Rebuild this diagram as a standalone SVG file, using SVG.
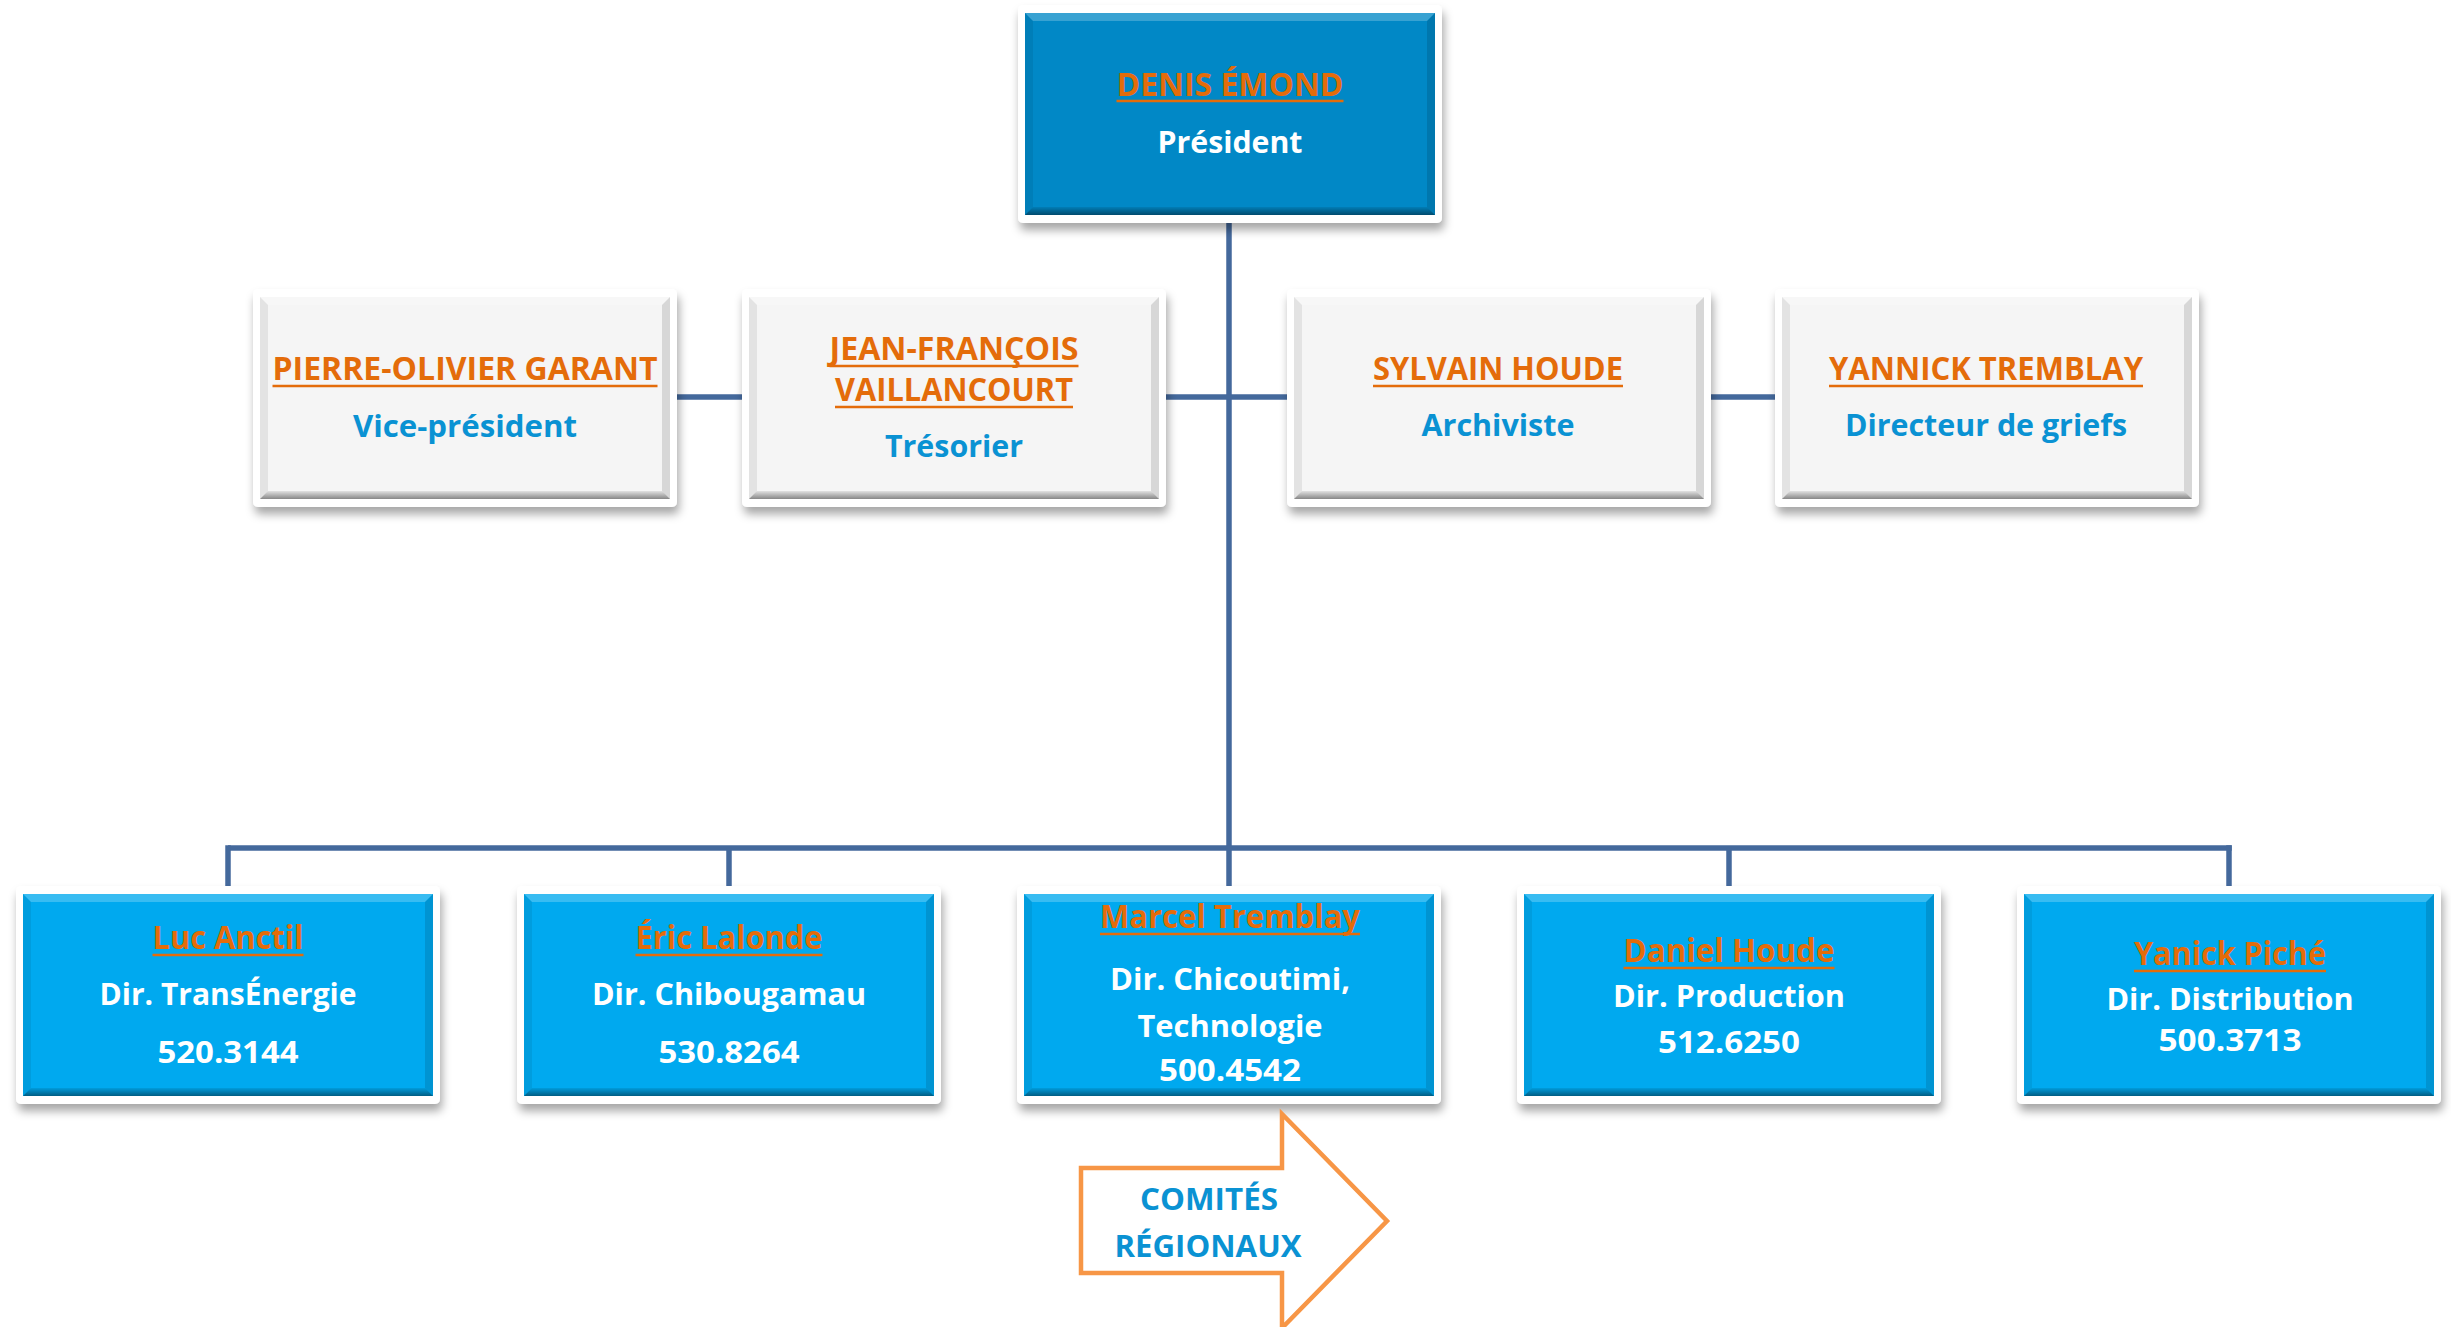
<svg xmlns="http://www.w3.org/2000/svg" xmlns:xlink="http://www.w3.org/1999/xlink" width="2451" height="1327" viewBox="0 0 2451 1327">
<style>
text{font-family:"Open Sans","Liberation Sans",sans-serif;font-weight:700;text-anchor:middle}
.nm{font-size:32px;fill:#E46C0A}
.ul{stroke:#E46C0A;stroke-width:2.6}
.wt{font-size:30px;fill:#FFFFFF}
.bl{font-size:30px;fill:#0A92D3}
.frame{fill:#FFFFFF;filter:url(#sh)}
.con{stroke:#44699C;stroke-width:5.5;fill:none;stroke-linecap:butt}
.top{fill:#0188C6}
.mid{fill:#F5F5F5}
.bot{fill:#00A9EF}
</style>
<defs>
<filter id="sh" x="-10%" y="-10%" width="125%" height="135%">
<feDropShadow dx="2" dy="7" stdDeviation="5" flood-color="#000" flood-opacity="0.35"/>
</filter>
<linearGradient id="bg" x1="0" y1="0" x2="0" y2="1">
<stop offset="0" stop-color="#000" stop-opacity="0.08"/>
<stop offset="1" stop-color="#000" stop-opacity="0.45"/>
</linearGradient>
<g id="bevel">
<polygon points="7,8 417,8 409,16 15,16" fill="#FFFFFF" fill-opacity="0.22"/>
<polygon points="7,8 15,16 15,202 7,210" fill="#000" fill-opacity="0.07"/>
<polygon points="417,8 409,16 409,202 417,210" fill="#000" fill-opacity="0.12"/>
<polygon points="7,210 15,202 409,202 417,210" fill="url(#bg)"/>
</g>
</defs>

<g id="connectors">
<line class="con" x1="1229" y1="220" x2="1229" y2="890"/>
<line class="con" x1="674" y1="397" x2="745" y2="397"/>
<line class="con" x1="1163" y1="397" x2="1290" y2="397"/>
<line class="con" x1="1708" y1="397" x2="1778" y2="397"/>
<line class="con" x1="228" y1="848" x2="2231.75" y2="848"/>
<line class="con" x1="228" y1="845.25" x2="228" y2="890"/>
<line class="con" x1="729" y1="848" x2="729" y2="890"/>
<line class="con" x1="1729" y1="848" x2="1729" y2="890"/>
<line class="con" x1="2229" y1="845.25" x2="2229" y2="890"/>
</g>

<g id="node-denis-emond" transform="translate(1018,5)">
<rect class="frame" x="0" y="0" width="424" height="218" rx="5"/>
<rect class="top" x="7" y="8" width="410" height="202"/>
<use xlink:href="#bevel"/>
<text class="nm" x="212" y="91" textLength="227" lengthAdjust="spacingAndGlyphs">DENIS ÉMOND</text>
<line class="ul" x1="98.5" y1="96" x2="325.5" y2="96"/>
<text class="wt" x="212" y="148" textLength="145" lengthAdjust="spacingAndGlyphs">Président</text>
</g>

<g id="node-pierre-olivier-garant" transform="translate(253,289)">
<rect class="frame" x="0" y="0" width="424" height="218" rx="5"/>
<rect class="mid" x="7" y="8" width="410" height="202"/>
<use xlink:href="#bevel"/>
<text class="nm" x="212" y="91" textLength="385" lengthAdjust="spacingAndGlyphs">PIERRE-OLIVIER GARANT</text>
<line class="ul" x1="19.5" y1="97" x2="404.5" y2="97"/>
<text class="bl" x="212" y="148" textLength="224" lengthAdjust="spacingAndGlyphs">Vice-président</text>
</g>

<g id="node-jean-francois-vaillancourt" transform="translate(742,289)">
<rect class="frame" x="0" y="0" width="424" height="218" rx="5"/>
<rect class="mid" x="7" y="8" width="410" height="202"/>
<use xlink:href="#bevel"/>
<text class="nm" x="212" y="71" textLength="249" lengthAdjust="spacingAndGlyphs">JEAN-FRANÇOIS</text>
<line class="ul" x1="87.5" y1="77" x2="336.5" y2="77"/>
<text class="nm" x="212" y="112" textLength="238" lengthAdjust="spacingAndGlyphs">VAILLANCOURT</text>
<line class="ul" x1="93" y1="118" x2="331" y2="118"/>
<text class="bl" x="212" y="168" textLength="138" lengthAdjust="spacingAndGlyphs">Trésorier</text>
</g>

<g id="node-sylvain-houde" transform="translate(1287,289)">
<rect class="frame" x="0" y="0" width="424" height="218" rx="5"/>
<rect class="mid" x="7" y="8" width="410" height="202"/>
<use xlink:href="#bevel"/>
<text class="nm" x="211" y="91" textLength="250" lengthAdjust="spacingAndGlyphs">SYLVAIN HOUDE</text>
<line class="ul" x1="86" y1="97" x2="336" y2="97"/>
<text class="bl" x="211" y="147" textLength="153" lengthAdjust="spacingAndGlyphs">Archiviste</text>
</g>

<g id="node-yannick-tremblay" transform="translate(1775,289)">
<rect class="frame" x="0" y="0" width="424" height="218" rx="5"/>
<rect class="mid" x="7" y="8" width="410" height="202"/>
<use xlink:href="#bevel"/>
<text class="nm" x="211" y="91" textLength="314" lengthAdjust="spacingAndGlyphs">YANNICK TREMBLAY</text>
<line class="ul" x1="54" y1="97" x2="368" y2="97"/>
<text class="bl" x="211" y="147" textLength="282" lengthAdjust="spacingAndGlyphs">Directeur de griefs</text>
</g>

<g id="node-luc-anctil" transform="translate(16,886)">
<rect class="frame" x="0" y="0" width="424" height="218" rx="5"/>
<rect class="bot" x="7" y="8" width="410" height="202"/>
<use xlink:href="#bevel"/>
<text class="nm" x="212" y="63" textLength="151" lengthAdjust="spacingAndGlyphs">Luc Anctil</text>
<line class="ul" x1="136.5" y1="69" x2="287.5" y2="69"/>
<text class="wt" x="212" y="119" textLength="257" lengthAdjust="spacingAndGlyphs">Dir. TransÉnergie</text>
<text class="wt" x="212" y="177" textLength="141" lengthAdjust="spacingAndGlyphs">520.3144</text>
</g>

<g id="node-eric-lalonde" transform="translate(517,886)">
<rect class="frame" x="0" y="0" width="424" height="218" rx="5"/>
<rect class="bot" x="7" y="8" width="410" height="202"/>
<use xlink:href="#bevel"/>
<text class="nm" x="212" y="63" textLength="187" lengthAdjust="spacingAndGlyphs">Éric Lalonde</text>
<line class="ul" x1="118.5" y1="69" x2="305.5" y2="69"/>
<text class="wt" x="212" y="119" textLength="274" lengthAdjust="spacingAndGlyphs">Dir. Chibougamau</text>
<text class="wt" x="212" y="177" textLength="141" lengthAdjust="spacingAndGlyphs">530.8264</text>
</g>

<g id="node-marcel-tremblay" transform="translate(1017,886)">
<rect class="frame" x="0" y="0" width="424" height="218" rx="5"/>
<rect class="bot" x="7" y="8" width="410" height="202"/>
<use xlink:href="#bevel"/>
<text class="nm" x="213" y="42" textLength="260" lengthAdjust="spacingAndGlyphs">Marcel Tremblay</text>
<line class="ul" x1="83" y1="48" x2="343" y2="48"/>
<text class="wt" x="213" y="104" textLength="240" lengthAdjust="spacingAndGlyphs">Dir. Chicoutimi,</text>
<text class="wt" x="213" y="151" textLength="185" lengthAdjust="spacingAndGlyphs">Technologie</text>
<text class="wt" x="213" y="195" textLength="142" lengthAdjust="spacingAndGlyphs">500.4542</text>
</g>

<g id="node-daniel-houde" transform="translate(1517,886)">
<rect class="frame" x="0" y="0" width="424" height="218" rx="5"/>
<rect class="bot" x="7" y="8" width="410" height="202"/>
<use xlink:href="#bevel"/>
<text class="nm" x="212" y="76" textLength="211" lengthAdjust="spacingAndGlyphs">Daniel Houde</text>
<line class="ul" x1="106.5" y1="82" x2="317.5" y2="82"/>
<text class="wt" x="212" y="121" textLength="232" lengthAdjust="spacingAndGlyphs">Dir. Production</text>
<text class="wt" x="212" y="167" textLength="142" lengthAdjust="spacingAndGlyphs">512.6250</text>
</g>

<g id="node-yanick-piche" transform="translate(2017,886)">
<rect class="frame" x="0" y="0" width="424" height="218" rx="5"/>
<rect class="bot" x="7" y="8" width="410" height="202"/>
<use xlink:href="#bevel"/>
<text class="nm" x="213" y="79" textLength="192" lengthAdjust="spacingAndGlyphs">Yanick Piché</text>
<line class="ul" x1="117" y1="85" x2="309" y2="85"/>
<text class="wt" x="213" y="124" textLength="247" lengthAdjust="spacingAndGlyphs">Dir. Distribution</text>
<text class="wt" x="213" y="165" textLength="143" lengthAdjust="spacingAndGlyphs">500.3713</text>
</g>

<g id="comites-regionaux">
<path d="M1081,1168 H1282 V1114 L1387,1221 L1282,1328 V1273 H1081 Z" fill="#FFFFFF" stroke="#F79646" stroke-width="4.5" stroke-linejoin="miter"/>
<text class="bl" x="1209" y="1210" textLength="138" lengthAdjust="spacingAndGlyphs">COMITÉS</text>
<text class="bl" x="1208" y="1257" textLength="187" lengthAdjust="spacingAndGlyphs">RÉGIONAUX</text>
</g>
</svg>
